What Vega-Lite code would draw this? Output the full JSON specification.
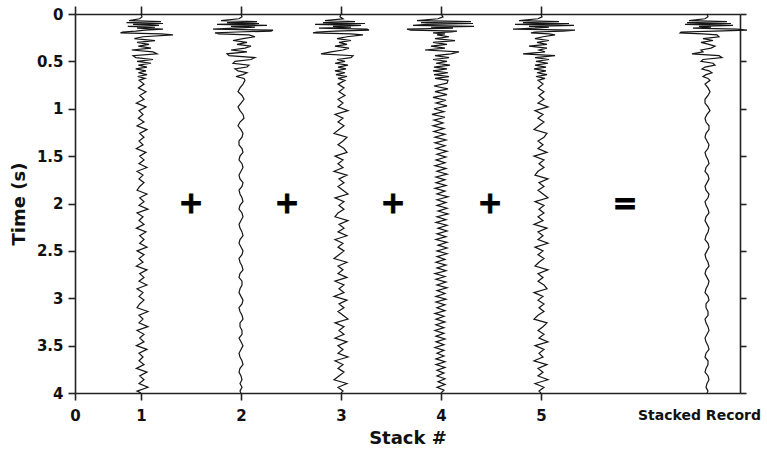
{
"$schema": "https://vega.github.io/schema/vega-lite/v6.json",
"width": 665,
"height": 379,
"autosize": {"type": "none"},
"padding": {"left": 75, "top": 14, "right": 27, "bottom": 62},
"background": "white",
"config": {
  "font": "DejaVu Sans",
  "view": {"stroke": null},
  "axis": {"domainColor": "#222", "domainWidth": 1.6, "tickColor": "#222", "tickWidth": 1.6, "grid": false,
    "labelFont": "DejaVu Sans", "labelFontWeight": "bold", "labelFontSize": 15, "labelColor": "#111",
    "titleFont": "DejaVu Sans", "titleFontWeight": "bold", "titleFontSize": 18, "titleColor": "#111", "labelFlush": false}
},
"layer": [
  {
    "data": {
      "values": "s,t,x\n1,0,1\n1,0.03,1.01\n1,0.05,0.98\n1,0.07,0.82\n1,0.08,1.2\n1,0.09,0.78\n1,0.1,1.22\n1,0.11,0.88\n1,0.12,1.18\n1,0.13,0.8\n1,0.14,1.14\n1,0.15,0.94\n1,0.16,1.22\n1,0.17,1.04\n1,0.18,0.92\n1,0.19,0.72\n1,0.2,0.69\n1,0.21,1.2\n1,0.22,1.32\n1,0.24,1.02\n1,0.26,0.9\n1,0.28,1.14\n1,0.3,0.94\n1,0.32,1.08\n1,0.34,0.96\n1,0.36,1.1\n1,0.38,0.86\n1,0.4,1.12\n1,0.42,1.16\n1,0.44,0.88\n1,0.46,0.92\n1,0.48,1.12\n1,0.5,0.94\n1,0.52,1.1\n1,0.54,0.96\n1,0.56,1.06\n1,0.58,0.92\n1,0.6,1.05\n1,0.62,0.96\n1,0.64,1.06\n1,0.66,0.95\n1,0.68,1.04\n1,0.7,0.97\n1,0.74,1.03\n1,0.78,0.96\n1,0.82,1.05\n1,0.86,0.98\n1,0.9,1.03\n1,0.94,0.93\n1,0.98,1.05\n1,1.02,0.97\n1,1.06,1.02\n1,1.1,0.96\n1,1.14,1.03\n1,1.18,0.94\n1,1.22,1.06\n1,1.26,0.98\n1,1.3,1.03\n1,1.34,0.97\n1,1.38,1.02\n1,1.42,0.93\n1,1.46,1.05\n1,1.5,0.98\n1,1.54,1.03\n1,1.58,0.97\n1,1.62,1.06\n1,1.66,0.94\n1,1.7,1.02\n1,1.74,0.97\n1,1.78,1.03\n1,1.82,0.98\n1,1.86,0.94\n1,1.9,1.06\n1,1.94,0.98\n1,1.98,1.03\n1,2.02,0.97\n1,2.06,1.07\n1,2.1,0.94\n1,2.14,1.02\n1,2.18,0.97\n1,2.22,1.03\n1,2.26,0.93\n1,2.3,1.05\n1,2.34,0.98\n1,2.38,1.03\n1,2.42,0.98\n1,2.46,1.06\n1,2.5,0.94\n1,2.54,1.03\n1,2.58,0.97\n1,2.62,1.02\n1,2.66,0.93\n1,2.7,1.06\n1,2.74,0.98\n1,2.78,1.03\n1,2.82,0.97\n1,2.86,1.06\n1,2.9,0.94\n1,2.94,1.02\n1,2.98,0.97\n1,3.02,1.03\n1,3.06,0.98\n1,3.1,0.94\n1,3.14,1.07\n1,3.18,0.97\n1,3.22,1.02\n1,3.26,0.97\n1,3.3,1.07\n1,3.34,0.94\n1,3.38,1.03\n1,3.42,0.98\n1,3.46,1.03\n1,3.5,0.93\n1,3.54,1.06\n1,3.58,0.97\n1,3.62,1.02\n1,3.66,0.97\n1,3.7,1.03\n1,3.74,0.93\n1,3.78,1.06\n1,3.82,0.98\n1,3.86,1.03\n1,3.9,0.97\n1,3.94,1.07\n1,3.98,0.94\n1,4,1\n2,0,2\n2,0.03,2.01\n2,0.05,1.98\n2,0.07,1.8\n2,0.08,2.16\n2,0.09,1.86\n2,0.1,2.18\n2,0.11,1.76\n2,0.12,2.26\n2,0.13,1.9\n2,0.14,2.14\n2,0.15,1.94\n2,0.16,1.72\n2,0.17,2.32\n2,0.18,2.3\n2,0.19,1.96\n2,0.2,1.74\n2,0.21,1.78\n2,0.22,2.08\n2,0.24,2.14\n2,0.26,2.02\n2,0.28,1.92\n2,0.3,2.06\n2,0.32,1.96\n2,0.34,2.1\n2,0.36,2.04\n2,0.38,1.9\n2,0.4,2.06\n2,0.42,1.86\n2,0.44,1.88\n2,0.46,2.14\n2,0.48,2.1\n2,0.5,1.94\n2,0.52,1.92\n2,0.54,2.08\n2,0.56,2.06\n2,0.58,1.94\n2,0.6,1.97\n2,0.62,2.06\n2,0.64,2.02\n2,0.66,1.95\n2,0.68,2.03\n2,0.7,2.04\n2,0.74,2.02\n2,0.78,1.99\n2,0.82,1.97\n2,0.86,2.01\n2,0.9,2.03\n2,0.94,2\n2,0.98,1.97\n2,1.02,1.99\n2,1.06,2.02\n2,1.1,2.03\n2,1.14,1.99\n2,1.18,1.97\n2,1.22,2\n2,1.26,2.02\n2,1.3,2.01\n2,1.34,1.98\n2,1.38,1.98\n2,1.42,2.01\n2,1.46,2.02\n2,1.5,1.99\n2,1.54,1.98\n2,1.58,2.01\n2,1.62,2.02\n2,1.66,2\n2,1.7,1.98\n2,1.74,1.99\n2,1.78,2.02\n2,1.82,2.01\n2,1.86,1.98\n2,1.9,1.99\n2,1.94,2.01\n2,1.98,2.02\n2,2.02,1.99\n2,2.06,1.98\n2,2.1,2.01\n2,2.14,2.02\n2,2.18,2\n2,2.22,1.98\n2,2.26,1.99\n2,2.3,2.01\n2,2.34,2.02\n2,2.38,1.99\n2,2.42,1.98\n2,2.46,2\n2,2.5,2.02\n2,2.54,2.01\n2,2.58,1.98\n2,2.62,1.99\n2,2.66,2.01\n2,2.7,2.02\n2,2.74,1.99\n2,2.78,1.98\n2,2.82,2.01\n2,2.86,2.01\n2,2.9,1.99\n2,2.94,1.98\n2,2.98,2\n2,3.02,2.02\n2,3.06,2.01\n2,3.1,1.98\n2,3.14,1.99\n2,3.18,2.01\n2,3.22,2.02\n2,3.26,1.99\n2,3.3,1.99\n2,3.34,2.01\n2,3.38,2.01\n2,3.42,1.98\n2,3.46,2\n2,3.5,2.02\n2,3.54,2\n2,3.58,1.98\n2,3.62,1.99\n2,3.66,2.01\n2,3.7,2.02\n2,3.74,1.99\n2,3.78,1.98\n2,3.82,2\n2,3.86,2.01\n2,3.9,1.99\n2,3.94,2.01\n2,3.98,1.99\n2,4,2\n3,0,3\n3,0.03,2.99\n3,0.05,3.02\n3,0.07,2.84\n3,0.08,3.14\n3,0.09,2.82\n3,0.1,3.24\n3,0.11,2.74\n3,0.12,3.2\n3,0.13,2.92\n3,0.14,3.1\n3,0.15,2.78\n3,0.16,3.26\n3,0.17,3.28\n3,0.18,2.94\n3,0.19,2.76\n3,0.2,2.72\n3,0.21,3.1\n3,0.22,3.22\n3,0.24,3.06\n3,0.26,2.96\n3,0.28,3.1\n3,0.3,2.98\n3,0.32,3.06\n3,0.34,2.94\n3,0.36,3.08\n3,0.38,3.02\n3,0.4,2.9\n3,0.42,2.8\n3,0.44,3.12\n3,0.46,3.1\n3,0.48,2.96\n3,0.5,3.04\n3,0.52,2.94\n3,0.54,3.07\n3,0.56,2.97\n3,0.58,3.05\n3,0.6,2.94\n3,0.62,3.04\n3,0.64,2.95\n3,0.66,3.06\n3,0.68,2.97\n3,0.7,3.04\n3,0.74,2.97\n3,0.78,3.03\n3,0.82,2.98\n3,0.86,3.04\n3,0.9,2.97\n3,0.94,3.02\n3,0.98,2.97\n3,1.02,3.07\n3,1.06,2.94\n3,1.1,3.02\n3,1.14,2.97\n3,1.18,3.03\n3,1.22,2.98\n3,1.26,2.93\n3,1.3,3.06\n3,1.34,3.02\n3,1.38,2.97\n3,1.42,3.03\n3,1.46,3.06\n3,1.5,2.94\n3,1.54,3.02\n3,1.58,2.97\n3,1.62,3.02\n3,1.66,2.93\n3,1.7,3.06\n3,1.74,2.98\n3,1.78,3.03\n3,1.82,2.97\n3,1.86,3.02\n3,1.9,3.07\n3,1.94,2.94\n3,1.98,3.03\n3,2.02,2.98\n3,2.06,3.03\n3,2.1,2.97\n3,2.14,2.94\n3,2.18,3.07\n3,2.22,2.98\n3,2.26,3.03\n3,2.3,2.97\n3,2.34,3.06\n3,2.38,2.94\n3,2.42,3.02\n3,2.46,2.97\n3,2.5,3.03\n3,2.54,2.98\n3,2.58,2.93\n3,2.62,3.06\n3,2.66,2.97\n3,2.7,3.02\n3,2.74,2.97\n3,2.78,3.06\n3,2.82,2.94\n3,2.86,3.03\n3,2.9,2.98\n3,2.94,3.03\n3,2.98,2.93\n3,3.02,3.06\n3,3.06,2.98\n3,3.1,3.03\n3,3.14,2.97\n3,3.18,3.02\n3,3.22,3.07\n3,3.26,2.94\n3,3.3,3.03\n3,3.34,2.98\n3,3.38,3.03\n3,3.42,2.94\n3,3.46,3.06\n3,3.5,2.97\n3,3.54,3.02\n3,3.58,2.97\n3,3.62,3.07\n3,3.66,2.94\n3,3.7,3.02\n3,3.74,2.97\n3,3.78,3.03\n3,3.82,2.98\n3,3.86,2.93\n3,3.9,3.06\n3,3.94,2.97\n3,3.98,3.02\n3,4,3\n4,0,4\n4,0.03,4.02\n4,0.05,3.97\n4,0.07,3.76\n4,0.08,4.3\n4,0.09,3.8\n4,0.1,4.32\n4,0.11,3.86\n4,0.12,3.72\n4,0.13,4.33\n4,0.14,3.9\n4,0.15,4.12\n4,0.16,3.66\n4,0.17,3.7\n4,0.18,4.16\n4,0.19,4.1\n4,0.2,3.92\n4,0.21,4.04\n4,0.22,3.96\n4,0.24,4.08\n4,0.26,3.94\n4,0.28,4.14\n4,0.3,3.92\n4,0.32,4.06\n4,0.34,3.9\n4,0.36,4.04\n4,0.38,3.84\n4,0.4,4.18\n4,0.42,4.1\n4,0.44,3.94\n4,0.46,4.08\n4,0.48,3.92\n4,0.5,4.06\n4,0.52,3.95\n4,0.54,4.09\n4,0.56,3.93\n4,0.58,4.06\n4,0.6,3.92\n4,0.62,4.07\n4,0.64,3.93\n4,0.66,4.08\n4,0.68,3.94\n4,0.7,4.07\n4,0.73,4.06\n4,0.76,3.93\n4,0.79,4.07\n4,0.82,3.94\n4,0.85,4.06\n4,0.88,3.92\n4,0.91,4.05\n4,0.94,3.95\n4,0.97,4.06\n4,1,3.93\n4,1.03,4.03\n4,1.06,3.91\n4,1.09,4.04\n4,1.12,3.93\n4,1.15,4.02\n4,1.18,3.92\n4,1.21,4.03\n4,1.24,3.93\n4,1.27,4.04\n4,1.3,3.94\n4,1.33,4.05\n4,1.36,3.94\n4,1.39,4.04\n4,1.42,3.95\n4,1.45,4.06\n4,1.48,3.96\n4,1.51,4.05\n4,1.54,3.95\n4,1.57,4.04\n4,1.6,3.94\n4,1.63,4.05\n4,1.66,3.96\n4,1.69,4.06\n4,1.72,3.95\n4,1.75,4.04\n4,1.78,3.95\n4,1.81,4.05\n4,1.84,3.94\n4,1.87,4.04\n4,1.9,3.96\n4,1.93,4.07\n4,1.96,3.96\n4,1.99,4.05\n4,2.02,3.96\n4,2.05,4.06\n4,2.08,3.97\n4,2.11,4.07\n4,2.14,3.96\n4,2.17,4.05\n4,2.2,3.95\n4,2.23,4.06\n4,2.26,3.97\n4,2.29,4.06\n4,2.32,3.96\n4,2.35,4.05\n4,2.38,3.95\n4,2.41,4.06\n4,2.44,3.97\n4,2.47,4.06\n4,2.5,3.96\n4,2.53,4.06\n4,2.56,3.96\n4,2.59,4.04\n4,2.62,3.95\n4,2.65,4.05\n4,2.68,3.96\n4,2.71,4.05\n4,2.74,3.94\n4,2.77,4.04\n4,2.8,3.95\n4,2.83,4.05\n4,2.86,3.96\n4,2.89,4.06\n4,2.92,3.96\n4,2.95,4.04\n4,2.98,3.95\n4,3.01,4.05\n4,3.04,3.95\n4,3.07,4.04\n4,3.1,3.96\n4,3.13,4.04\n4,3.16,3.94\n4,3.19,4.03\n4,3.22,3.95\n4,3.25,4.04\n4,3.28,3.95\n4,3.31,4.03\n4,3.34,3.94\n4,3.37,4.03\n4,3.4,3.95\n4,3.43,4.04\n4,3.46,3.95\n4,3.49,4.03\n4,3.52,3.94\n4,3.55,4.03\n4,3.58,3.96\n4,3.61,4.03\n4,3.64,3.95\n4,3.67,4.04\n4,3.7,3.95\n4,3.73,4.04\n4,3.76,3.96\n4,3.79,4.03\n4,3.82,3.96\n4,3.85,4.04\n4,3.88,3.97\n4,3.91,4.04\n4,3.94,3.96\n4,3.97,4.03\n4,4,4\n5,0,5\n5,0.03,5.01\n5,0.05,4.97\n5,0.07,4.78\n5,0.08,5.18\n5,0.09,4.82\n5,0.1,5.28\n5,0.11,4.74\n5,0.12,5.33\n5,0.13,4.88\n5,0.14,5.08\n5,0.15,4.94\n5,0.16,4.72\n5,0.17,5.34\n5,0.18,5.22\n5,0.19,4.94\n5,0.2,4.9\n5,0.21,5.08\n5,0.22,5.14\n5,0.24,5.02\n5,0.26,4.94\n5,0.28,5.08\n5,0.3,4.96\n5,0.32,5.06\n5,0.34,4.88\n5,0.36,5.06\n5,0.38,4.98\n5,0.4,5.04\n5,0.42,4.82\n5,0.44,5.14\n5,0.46,4.94\n5,0.48,5.08\n5,0.5,4.95\n5,0.52,5.07\n5,0.54,4.94\n5,0.56,5.05\n5,0.58,4.93\n5,0.6,5.05\n5,0.62,4.96\n5,0.64,5.06\n5,0.66,4.95\n5,0.68,5.04\n5,0.7,4.97\n5,0.74,5.02\n5,0.78,4.97\n5,0.82,5.03\n5,0.86,4.98\n5,0.9,5.03\n5,0.94,4.97\n5,0.98,5.07\n5,1.02,4.94\n5,1.06,5.02\n5,1.1,4.97\n5,1.14,5.03\n5,1.18,4.98\n5,1.22,4.93\n5,1.26,5.06\n5,1.3,5.03\n5,1.34,4.97\n5,1.38,5.02\n5,1.42,4.97\n5,1.46,5.06\n5,1.5,4.93\n5,1.54,5.03\n5,1.58,4.98\n5,1.62,5.03\n5,1.66,4.97\n5,1.7,4.94\n5,1.74,5.07\n5,1.78,4.98\n5,1.82,5.03\n5,1.86,4.97\n5,1.9,5.02\n5,1.94,5.07\n5,1.98,4.94\n5,2.02,5.03\n5,2.06,4.98\n5,2.1,5.03\n5,2.14,4.97\n5,2.18,5.02\n5,2.22,4.93\n5,2.26,5.06\n5,2.3,4.97\n5,2.34,5.02\n5,2.38,4.97\n5,2.42,5.07\n5,2.46,4.94\n5,2.5,5.02\n5,2.54,4.97\n5,2.58,5.03\n5,2.62,4.98\n5,2.66,4.94\n5,2.7,5.07\n5,2.74,4.97\n5,2.78,5.02\n5,2.82,4.97\n5,2.86,5.03\n5,2.9,5.06\n5,2.94,4.93\n5,2.98,5.02\n5,3.02,4.97\n5,3.06,5.03\n5,3.1,4.98\n5,3.14,5.03\n5,3.18,4.97\n5,3.22,4.93\n5,3.26,5.06\n5,3.3,5.02\n5,3.34,4.97\n5,3.38,5.03\n5,3.42,4.98\n5,3.46,5.07\n5,3.5,4.94\n5,3.54,5.03\n5,3.58,4.98\n5,3.62,5.02\n5,3.66,4.93\n5,3.7,5.06\n5,3.74,4.97\n5,3.78,5.02\n5,3.82,4.97\n5,3.86,5.07\n5,3.9,4.94\n5,3.94,5.03\n5,3.98,4.98\n5,4,5\n6,0,6.66\n6,0.03,6.67\n6,0.05,6.64\n6,0.07,6.48\n6,0.08,6.86\n6,0.09,6.46\n6,0.1,6.9\n6,0.11,6.44\n6,0.12,6.92\n6,0.13,6.58\n6,0.14,6.7\n6,0.15,6.52\n6,0.16,6.96\n6,0.17,7.06\n6,0.18,6.74\n6,0.19,6.4\n6,0.2,6.39\n6,0.21,6.62\n6,0.22,6.76\n6,0.24,6.78\n6,0.26,6.62\n6,0.28,6.72\n6,0.3,6.6\n6,0.32,6.68\n6,0.34,6.74\n6,0.36,6.7\n6,0.38,6.6\n6,0.4,6.62\n6,0.42,6.51\n6,0.44,6.78\n6,0.46,6.81\n6,0.48,6.62\n6,0.5,6.6\n6,0.52,6.72\n6,0.54,6.74\n6,0.56,6.64\n6,0.58,6.61\n6,0.6,6.68\n6,0.62,6.71\n6,0.64,6.65\n6,0.66,6.62\n6,0.68,6.67\n6,0.7,6.69\n6,0.74,6.64\n6,0.78,6.67\n6,0.82,6.69\n6,0.86,6.67\n6,0.9,6.64\n6,0.94,6.64\n6,0.98,6.67\n6,1.02,6.69\n6,1.06,6.66\n6,1.1,6.64\n6,1.14,6.65\n6,1.18,6.68\n6,1.22,6.68\n6,1.26,6.65\n6,1.3,6.64\n6,1.34,6.66\n6,1.38,6.68\n6,1.42,6.67\n6,1.46,6.64\n6,1.5,6.65\n6,1.54,6.67\n6,1.58,6.68\n6,1.62,6.65\n6,1.66,6.64\n6,1.7,6.67\n6,1.74,6.68\n6,1.78,6.66\n6,1.82,6.64\n6,1.86,6.65\n6,1.9,6.68\n6,1.94,6.67\n6,1.98,6.64\n6,2.02,6.65\n6,2.06,6.67\n6,2.1,6.68\n6,2.14,6.65\n6,2.18,6.64\n6,2.22,6.66\n6,2.26,6.68\n6,2.3,6.67\n6,2.34,6.65\n6,2.38,6.64\n6,2.42,6.67\n6,2.46,6.68\n6,2.5,6.66\n6,2.54,6.64\n6,2.58,6.65\n6,2.62,6.67\n6,2.66,6.68\n6,2.7,6.65\n6,2.74,6.64\n6,2.78,6.66\n6,2.82,6.68\n6,2.86,6.67\n6,2.9,6.65\n6,2.94,6.64\n6,2.98,6.67\n6,3.02,6.68\n6,3.06,6.65\n6,3.1,6.65\n6,3.14,6.67\n6,3.18,6.67\n6,3.22,6.64\n6,3.26,6.65\n6,3.3,6.67\n6,3.34,6.68\n6,3.38,6.66\n6,3.42,6.64\n6,3.46,6.65\n6,3.5,6.67\n6,3.54,6.68\n6,3.58,6.65\n6,3.62,6.64\n6,3.66,6.67\n6,3.7,6.67\n6,3.74,6.65\n6,3.78,6.64\n6,3.82,6.67\n6,3.86,6.68\n6,3.9,6.66\n6,3.94,6.65\n6,3.98,6.67\n6,4,6.66",
      "format": {"type": "csv", "parse": {"s": "number", "t": "number", "x": "number"}}
    },
    "mark": {"type": "line", "stroke": "#151515", "strokeWidth": 1.2, "interpolate": "linear"},
    "encoding": {
      "x": {"field": "x", "type": "quantitative",
        "scale": {"domain": [0, 1, 6.99], "range": [0, 66, 665], "zero": false, "nice": false},
        "axis": {"orient": "bottom", "title": "Stack #", "values": [0, 1, 2, 3, 4, 5, 6.58],
          "labelExpr": "datum.value > 6 ? 'Stacked Record' : datum.label",
          "tickSize": 7, "labelPadding": 8, "titlePadding": 6,
          "labelFontSize": {"condition": {"test": "datum.value > 6", "value": 14}, "value": 15},
          "tickOpacity": {"condition": {"test": "datum.value > 6", "value": 0}, "value": 1}}},
      "y": {"field": "t", "type": "quantitative",
        "scale": {"domain": [0, 4], "reverse": true, "nice": false, "zero": false},
        "axis": {"orient": "left", "title": "Time (s)", "values": [0, 0.5, 1, 1.5, 2, 2.5, 3, 3.5, 4],
          "format": "~g", "tickSize": 7, "labelPadding": 5, "titlePadding": 8}},
      "detail": {"field": "s", "type": "nominal"},
      "order": {"field": "t", "type": "quantitative"}
    }
  },
  {
    "data": {"values": [
      {"x": 1.5, "t": 2, "sym": "+"},
      {"x": 2.46, "t": 2, "sym": "+"},
      {"x": 3.52, "t": 2, "sym": "+"},
      {"x": 4.49, "t": 2, "sym": "+"},
      {"x": 5.84, "t": 2, "sym": "="}
    ]},
    "mark": {"type": "text", "fontSize": 30, "fontWeight": "bold", "font": "DejaVu Sans", "color": "#000", "baseline": "middle", "align": "center", "stroke": "#000", "strokeWidth": 0.8},
    "encoding": {
      "x": {"field": "x", "type": "quantitative",
        "axis": {"orient": "top", "title": null, "labels": false, "values": [0, 1, 2, 3, 4, 5], "tickSize": 8}},
      "y": {"field": "t", "type": "quantitative",
        "axis": {"orient": "right", "title": null, "labels": false, "values": [0, 0.5, 1, 1.5, 2, 2.5, 3, 3.5, 4], "tickSize": 6}},
      "text": {"field": "sym", "type": "nominal"}
    }
  }
],
"resolve": {"axis": {"x": "independent", "y": "independent"}}
}
